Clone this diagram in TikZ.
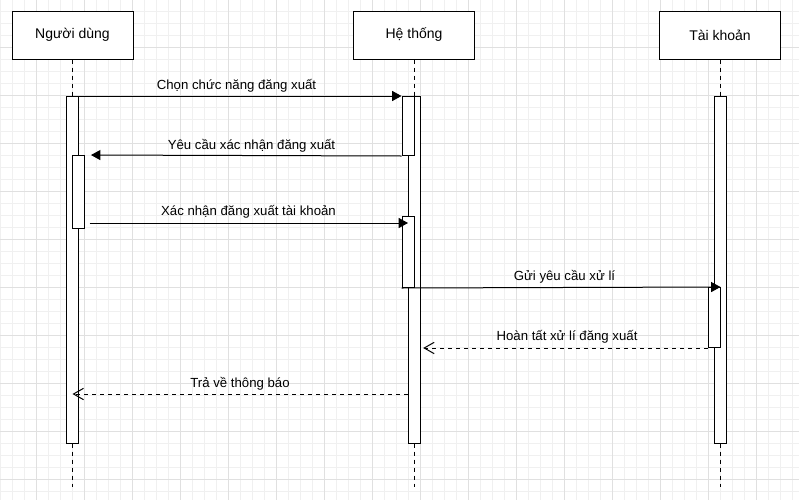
\documentclass[tikz,border=0pt]{standalone}
\usepackage{fontspec}
\setmainfont{Liberation Sans}
\usetikzlibrary{arrows.meta}
\definecolor{gridminor}{RGB}{240,240,240}
\definecolor{gridmajor}{RGB}{224,224,224}
\tikzset{every picture/.style={line width=0.75pt}}
\tikzset{
  actor/.style={draw, fill=white, minimum width=90.75pt, minimum height=36pt, inner sep=0pt, font=\fontsize{10.5}{12}\selectfont},
  actbar/.style={draw, fill=white, minimum width=9pt, inner sep=0pt, anchor=north},
  lifeline/.style={dash pattern=on 3pt off 3pt},
  msgcall/.style={-{Triangle[length=7pt,width=7.5pt]}},
  msgreply/.style={dash pattern=on 3pt off 3pt, -{Straight Barb[length=7.5pt,width=8.5pt]}},
  msgtext/.style={anchor=base, inner sep=0pt, font=\fontsize{9.9}{12}\selectfont}
}

\begin{document}
\begin{tikzpicture}[x=0.75pt,y=0.75pt,yscale=-1,xscale=1]
\useasboundingbox (0,0) rectangle (799,500);
\fill[white] (0,0) rectangle (799,500);

%Grid
\foreach \gx in {0,12,...,792} \draw[gridminor] (\gx,0) -- (\gx,500);
\foreach \gy in {11,23,...,491} \draw[gridminor] (0,\gy) -- (799,\gy);
\foreach \gx in {36,84,...,756} \draw[gridmajor] (\gx,0) -- (\gx,500);
\foreach \gy in {47,95,...,479} \draw[gridmajor] (0,\gy) -- (799,\gy);

%Shape: Lifeline heads
\node[actor] (nd) at (72.5,35) {Người dùng};
\node[actor] (ht) at (414,35) {Hệ thống};
\node[actor] (tk) at (720,35) {Tài khoản};

\coordinate (lifeend) at (0,487);
\draw[lifeline] (nd.south) -- (nd.south |- lifeend);
\draw[lifeline] (ht.south) -- (ht.south |- lifeend);
\draw[lifeline] (tk.south) -- (tk.south |- lifeend);

%Shape: Activation bars
\node[actbar, minimum height=260.25pt] (nd1) at (72.5,96) {};
\node[actbar, minimum height=54.75pt] (nd2) at (78.5,155) {};
\node[actbar, minimum height=260.25pt] (ht1) at (414,96) {};
\node[actbar, minimum height=44.25pt] (ht2) at (408,96) {};
\node[actbar, minimum height=53.25pt] (ht3) at (408,216) {};
\node[actbar, minimum height=260.25pt] (tk1) at (720,96) {};
\node[actbar, minimum height=45pt] (tk2) at (714,287) {};

%Straight Lines: messages
\coordinate (m3) at (0,223);
\coordinate (m6) at (0,394);
\draw[msgcall] (nd1.north east) -- (ht2.north west);
\draw[msgcall, shorten >=4.5pt] (ht2.south west) -- (nd2.north east);
\draw[msgcall, shorten <=3.5pt] (nd2.east |- m3) -- (ht3.center |- m3);
\draw[msgcall] (ht3.south west) -- (tk2.north east);
\draw[msgreply, shorten >=2pt] (tk2.south west) -- (ht1.east |- tk2.south west);
\draw[msgreply] (ht1.west |- m6) -- (nd1.center |- m6);

% Text Node
\node[msgtext] (l1) at (236.5,89) {Chọn chức năng đăng xuất};
% Text Node
\node[msgtext] (l2) at (251.5,149) {Yêu cầu xác nhận đăng xuất};
% Text Node
\node[msgtext] (l3) at (248.5,215) {Xác nhận đăng xuất tài khoản};
% Text Node
\node[msgtext] (l4) at (564.5,280) {Gửi yêu cầu xử lí};
% Text Node
\node[msgtext] (l5) at (567,340) {Hoàn tất xử lí đăng xuất};
% Text Node
\node[msgtext] (l6) at (240,387) {Trả về thông báo};

\end{tikzpicture}
\end{document}
